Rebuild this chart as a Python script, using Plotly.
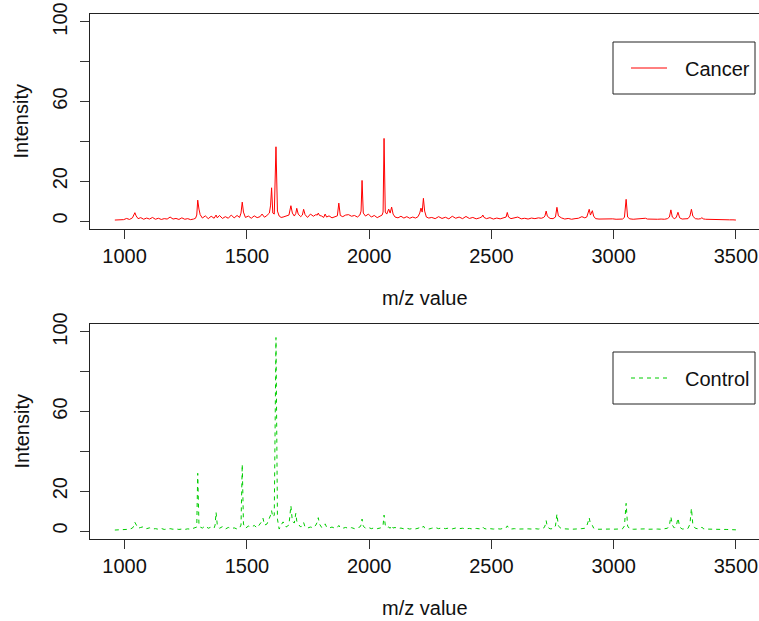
import plotly.graph_objects as go

# m/z grid shared by both spectra
mz = [
    960, 972, 984, 996, 1008, 1020, 1032, 1038, 1042, 1047,
    1055, 1066, 1078, 1090, 1102, 1114, 1126, 1138, 1150, 1162,
    1174, 1186, 1198, 1210, 1222, 1234, 1246, 1258, 1270, 1282,
    1290,
    1295, 1299, 1304, 1309, 1318, 1330, 1342, 1354, 1366, 1370,
    1374, 1379, 1388, 1400, 1412, 1424, 1436, 1448, 1460, 1470,
    1476, 1481, 1486, 1494, 1506, 1518, 1530, 1542, 1554, 1562,
    1566, 1572, 1582, 1592, 1597, 1601, 1606, 1612, 1619, 1625,
    1632, 1640,
    1648, 1660, 1672, 1680, 1686, 1694, 1700, 1704, 1710, 1720,
    1727, 1732, 1738, 1748, 1760, 1772, 1782, 1788, 1792, 1797,
    1806, 1814, 1820, 1826, 1836, 1848, 1860, 1870, 1876, 1882,
    1892, 1904, 1916, 1928, 1940, 1952, 1962, 1967, 1971, 1976,
    1985, 1997, 2009, 2021, 2033, 2045, 2053, 2057, 2061, 2066,
    2072, 2080, 2086, 2092, 2098, 2106, 2118, 2130, 2142, 2154,
    2166, 2178, 2190, 2200, 2207, 2212, 2217, 2222, 2227, 2234,
    2244,
    2256, 2270, 2284, 2298, 2312, 2326, 2340, 2354, 2368, 2382,
    2396, 2410, 2424, 2438, 2452, 2460, 2465, 2470, 2480, 2494,
    2508, 2522, 2536, 2550, 2560, 2565, 2570, 2580, 2594, 2608,
    2622, 2636, 2650, 2664, 2678, 2692, 2704, 2714, 2719, 2724,
    2729, 2740, 2752, 2762, 2768, 2774, 2786, 2800, 2814, 2828,
    2842, 2856, 2870, 2882, 2890, 2895, 2900, 2905, 2909, 2913,
    2918, 2926, 2940, 2954, 2968, 2982, 2996, 3010, 3024, 3036,
    3044, 3051, 3057, 3066, 3080, 3094, 3108, 3122, 3130, 3138,
    3152, 3166, 3180, 3194, 3208, 3220, 3228, 3234, 3240, 3248,
    3256, 3263, 3270, 3280, 3292, 3304, 3312, 3318, 3324, 3334,
    3346, 3356, 3361, 3366, 3376, 3390, 3404, 3418, 3432, 3446,
    3460, 3474, 3488, 3500,
]

cancer = [
    0.5, 0.6, 0.9, 0.7, 1.3, 0.8, 1.6, 2.8, 4.2, 2.6,
    1.2, 1.7, 0.9, 1.5, 1.0, 1.8, 0.9, 1.4, 0.8, 1.2,
    1.0, 2.0, 1.0, 1.3, 0.8, 1.6, 0.9, 1.2, 0.7, 1.0,
    1.4,
    3.0, 10.5, 6.0, 3.2, 1.5, 2.6, 1.2, 2.4, 1.4, 2.2,
    3.0, 1.6, 2.8, 1.3, 2.2, 1.4, 3.0, 1.6, 2.8, 1.8,
    4.0, 9.5, 4.5, 1.8, 2.5, 1.4, 2.6, 1.7, 2.2, 3.5,
    2.6, 1.9, 2.8, 4.0, 8.0, 16.7, 4.0, 3.5, 37.3, 5.0,
    2.5, 1.8,
    2.0, 2.6, 3.0, 7.7, 4.0, 2.5, 3.8, 6.4, 3.5, 2.2,
    3.0, 5.9, 3.2, 1.8, 3.5, 2.4, 3.2, 3.0, 4.0, 2.8,
    2.5, 1.8, 3.5, 2.0, 2.6, 1.6, 2.2, 2.6, 9.0, 2.8,
    2.2, 3.0, 3.2, 2.4, 2.8, 2.0, 3.0, 5.0, 20.4, 4.0,
    2.5, 3.5, 2.0, 2.8, 1.7, 2.5, 3.0, 4.5, 41.5, 4.5,
    3.5, 6.0, 4.0, 7.0, 3.5, 2.0, 1.6, 2.4, 1.5, 2.2,
    1.4, 2.0, 1.5, 2.2, 4.0, 6.5, 4.5, 11.4, 5.0, 2.0,
    1.5,
    1.8, 1.2, 2.2, 1.3, 1.9, 1.1, 2.4, 1.4, 2.0, 1.2,
    2.3, 1.3, 1.8, 1.1, 1.6, 2.0, 3.0, 1.8, 1.2, 1.7,
    1.0, 1.5, 1.1, 1.6, 2.0, 4.3, 2.0, 1.2, 1.6, 2.0,
    1.1, 1.4, 1.0, 1.5, 1.2, 1.6, 1.4, 1.8, 2.6, 5.0,
    2.4, 1.3, 1.2, 2.0, 6.9, 2.6, 1.6, 1.0, 1.3, 0.9,
    1.2, 1.4, 2.2, 1.6, 2.0, 4.0, 5.9, 3.0, 4.0, 5.2,
    2.5, 1.2, 1.0, 1.1, 0.9, 1.0, 1.1, 0.9, 1.0, 1.0,
    1.8, 10.9, 2.0, 1.1, 0.9, 1.0, 1.0, 1.1, 1.4, 1.0,
    0.9, 1.0, 0.9, 1.0, 0.9, 1.2, 2.0, 5.6, 2.0, 1.2,
    1.8, 4.4, 1.6, 1.0, 1.1, 1.2, 2.5, 5.9, 2.4, 1.2,
    1.0, 1.2, 1.7, 1.1, 0.9, 0.8, 0.9, 0.7, 0.8, 0.7,
    0.7, 0.6, 0.6, 0.5,
]

control = [
    0.5, 0.6, 0.8, 0.7, 1.0, 0.9, 1.5, 2.6, 4.4, 3.0,
    1.4, 1.8, 2.2, 1.2, 1.6, 1.0, 1.2, 0.9, 1.3, 0.8,
    1.0, 1.2, 0.9, 1.1, 0.8, 1.0, 0.8, 1.1, 0.9, 1.4,
    2.0,
    2.0, 29.0, 3.0, 2.0, 1.5, 2.6, 1.4, 2.0, 1.5, 3.0,
    9.4, 3.0, 1.4, 2.2, 1.0, 1.8, 1.2, 1.6, 1.0, 1.5,
    3.0, 33.5, 3.5, 1.4, 2.5, 2.0, 2.8, 1.6, 3.5, 5.0,
    6.4, 3.0, 3.5, 6.0, 8.0, 10.2, 7.0, 8.0, 97.2, 6.0,
    1.0, 3.0,
    4.6, 2.0, 3.0, 12.7, 5.0, 4.0, 8.9, 5.0, 3.5, 2.0,
    3.5, 4.3, 2.0, 1.5, 2.0, 1.6, 3.0, 4.5, 6.7, 3.5,
    1.8, 2.5, 3.6, 2.0, 1.5, 2.0, 1.4, 1.8, 2.8, 1.6,
    1.4, 1.8, 1.3, 1.7, 1.2, 1.6, 2.0, 3.0, 6.0, 2.5,
    1.4, 1.8, 1.2, 1.6, 1.2, 1.5, 2.0, 3.0, 8.0, 3.0,
    1.6, 2.0, 1.4, 2.8, 1.5, 1.8, 1.2, 1.5, 1.1, 1.4,
    1.0, 1.3, 1.1, 1.4, 1.8, 2.0, 1.6, 2.5, 1.5, 1.2,
    1.0,
    1.4, 1.8, 1.2, 1.6, 1.2, 1.5, 1.1, 1.5, 1.2, 1.4,
    1.1, 1.3, 1.0, 1.3, 1.1, 1.4, 2.0, 1.3, 1.0, 1.2,
    1.0, 1.2, 1.0, 1.3, 1.6, 2.6, 1.5, 1.0, 1.2, 1.0,
    1.1, 1.0, 1.1, 1.0, 1.2, 1.0, 1.2, 1.5, 2.5, 5.2,
    2.0, 1.1, 1.2, 2.5, 8.5, 2.5, 1.2, 1.0, 1.0, 0.9,
    1.0, 1.0, 1.2, 1.4, 2.5, 4.5, 6.7, 3.5, 3.0, 2.8,
    1.5, 1.0, 0.9, 1.0, 0.9, 1.0, 0.9, 1.0, 0.9, 1.1,
    2.5, 13.9, 2.5, 1.0, 0.9, 1.0, 0.9, 1.0, 1.1, 0.9,
    1.0, 0.9, 1.0, 0.9, 1.0, 1.4, 3.0, 7.2, 3.0, 1.5,
    2.5, 6.5, 2.0, 1.0, 1.1, 1.3, 3.5, 11.4, 3.0, 1.4,
    1.1, 1.4, 2.0, 1.2, 1.0, 0.9, 1.0, 0.8, 0.9, 0.8,
    0.8, 0.7, 0.7, 0.6,
]

assert len(mz) == len(cancer) == len(control)

x_ticks = [1000, 1500, 2000, 2500, 3000, 3500]
y_ticks = [0, 20, 40, 60, 80, 100]
y_tick_labels = ["0", "20", "", "60", "", "100"]

W, H = 759, 621
FONT = "Liberation Sans, Arial, Helvetica, sans-serif"
FS = 20


def py(px):
    """Pixel row -> paper y."""
    return 1 - px / H


def pxx(px):
    return px / W


fig = go.Figure()
fig.add_trace(go.Scatter(x=mz, y=cancer, mode="lines", name="Cancer",
                         line=dict(color="#FF0000", width=1),
                         xaxis="x", yaxis="y", showlegend=False))
fig.add_trace(go.Scatter(x=mz, y=control, mode="lines", name="Control",
                         line=dict(color="#00CD00", width=1, dash="4px,4px"),
                         xaxis="x2", yaxis="y2", showlegend=False))

xa = dict(range=[858.4, 3594.4], domain=[pxx(90), 1.0], tickvals=x_ticks,
          ticktext=[str(v) for v in x_ticks], ticks="outside", ticklen=9,
          tickwidth=1, tickcolor="#333", showline=True, linecolor="#222",
          linewidth=1, mirror=True, showgrid=False, zeroline=False,
          automargin=False,
          tickfont=dict(family=FONT, size=FS, color="#111"))
ya = dict(range=[-4, 104], tickvals=y_ticks, ticktext=y_tick_labels,
          ticks="outside", ticklen=9, tickwidth=1, tickcolor="#333",
          showline=True, linecolor="#222", linewidth=1, mirror=False,
          showgrid=False, zeroline=False, tickangle=-90, automargin=False,
          ticklabelstandoff=5,
          tickfont=dict(family=FONT, size=FS, color="#111"))

fig.update_layout(
    width=W, height=H,
    margin=dict(l=0, r=0, t=0, b=0, autoexpand=False),
    paper_bgcolor="white", plot_bgcolor="white",
    xaxis=dict(xa, anchor="y"),
    yaxis=dict(ya, domain=[py(229), py(14)], anchor="x"),
    xaxis2=dict(xa, anchor="y2"),
    yaxis2=dict(ya, domain=[py(539), py(324)], anchor="x2"),
    font=dict(family=FONT, size=FS, color="#111"),
)

# axis titles
for ymid, ylab in [(121.5, 298), (431.5, 608)]:
    fig.add_annotation(text="Intensity", x=pxx(21), y=py(ymid), xref="paper",
                       yref="paper", textangle=-90, showarrow=False,
                       xanchor="center", yanchor="middle",
                       font=dict(family=FONT, size=FS, color="#111"))
    fig.add_annotation(text="m/z value", x=pxx(425), y=py(ylab), xref="paper",
                       yref="paper", showarrow=False, xanchor="center",
                       yanchor="middle",
                       font=dict(family=FONT, size=FS, color="#111"))

# legend boxes
legends = [
    ("Cancer", "#FF0000", "solid", 42, 94),
    ("Control", "#00CD00", "4px,4px", 352, 404),
]
for label, color, dash, top, bottom in legends:
    fig.add_shape(type="rect", xref="paper", yref="paper",
                  x0=pxx(613), x1=pxx(755), y0=py(bottom), y1=py(top),
                  line=dict(color="#222", width=1), fillcolor="white")
    mid = (top + bottom) / 2
    fig.add_shape(type="line", xref="paper", yref="paper",
                  x0=pxx(631), x1=pxx(667), y0=py(mid), y1=py(mid),
                  line=dict(color=color, width=1, dash=dash))
    fig.add_annotation(text=label, x=pxx(683), y=py(mid + 1), xref="paper",
                       yref="paper", showarrow=False, xanchor="left",
                       yanchor="middle",
                       font=dict(family=FONT, size=FS, color="#111"))

fig.write_html("out.html")
